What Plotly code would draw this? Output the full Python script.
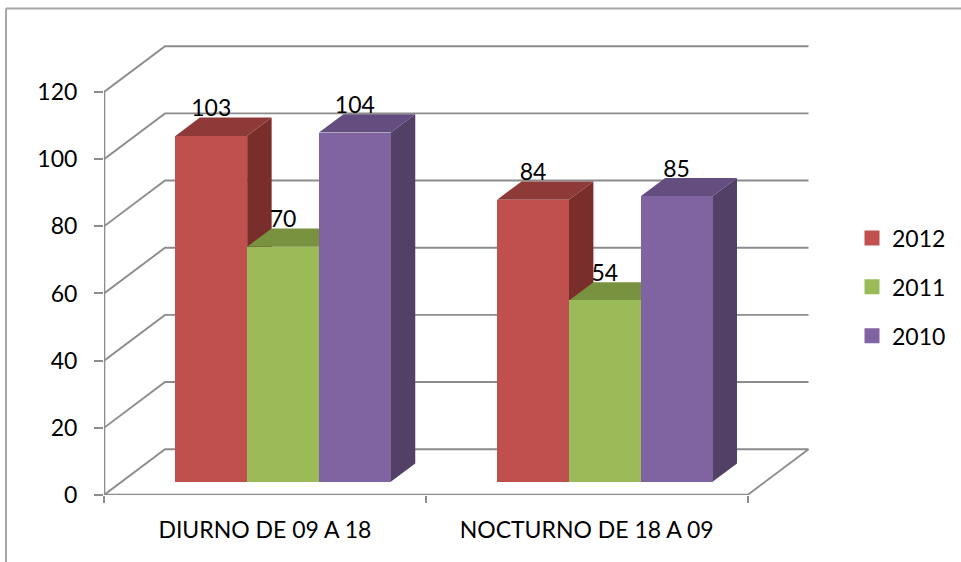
import plotly.graph_objects as go

categories = ["DIURNO DE 09 A 18", "NOCTURNO DE 18 A 09"]
series_names = ["2012", "2011", "2010"]
values_2012 = [103, 84]
values_2011 = [70, 54]
values_2010 = [104, 85]
y_ticks = [0, 20, 40, 60, 80, 100, 120]

series_values = [values_2012, values_2011, values_2010]
front_colors = ["#C0504D", "#9BBB59", "#8064A2"]
top_colors = ["#8E3A38", "#78923F", "#634E7F"]
side_colors = ["#792E2C", "#6B8438", "#524066"]
FONT = "Lato"
FS = 23
TEXT = "#000000"
GRID = "#8C8C8C"

# pixel frame of the plot area
W, H = 961, 562
LEFT, BOTTOM_PX = 104.0, 494.7
RIGHT, TOP_PX = 810.0, 44.5
CAT_PX = 321.75
Y_PX = 3.36
x_range = [0, (RIGHT - LEFT) / CAT_PX]
y_range = [0, (BOTTOM_PX - TOP_PX) / Y_PX]

# oblique projection, in axis units
WALL_DX = 61.0 / CAT_PX
WALL_DY = 45.8 / Y_PX
BAR_DX = 24.5 / CAT_PX
BAR_DY = 18.3 / Y_PX
FLOOR = 13.2 / Y_PX
BAR_W = 71.8 / CAT_PX
GROUP_SHIFT = 0.5565
LABEL_GAP = 25.5 / Y_PX


def px(x):
    return (x - LEFT) / (RIGHT - LEFT)


def py(y):
    return (BOTTOM_PX - y) / (BOTTOM_PX - TOP_PX)


fig = go.Figure()


def line(xs, ys, width=1.9, color=GRID):
    fig.add_trace(go.Scatter(x=xs, y=ys, mode="lines", hoverinfo="skip", showlegend=False,
                             cliponaxis=False, line=dict(color=color, width=width)))


def poly(xs, ys, color):
    fig.add_trace(go.Scatter(x=xs, y=ys, mode="lines", fill="toself", fillcolor=color,
                             line=dict(color=color, width=0), hoverinfo="skip",
                             showlegend=False, cliponaxis=False))


# walls and floor
x_end = len(categories)
for t in y_ticks:
    line([0, WALL_DX, x_end + WALL_DX], [t, t + WALL_DY, t + WALL_DY])
line([x_end, x_end + WALL_DX], [0, WALL_DY])
line([0, x_end], [0, 0], width=2.6)
line([0, 0], [0, y_ticks[-1]], width=2.6)


def bar_x(i, j):
    return i + GROUP_SHIFT + (j - 1) * BAR_W


# side faces, then top faces, behind the fronts
for j, vals in enumerate(series_values):
    for i, v in enumerate(vals):
        xr = bar_x(i, j) + BAR_W / 2
        poly([xr, xr + BAR_DX, xr + BAR_DX, xr],
             [FLOOR, FLOOR + BAR_DY, FLOOR + v + BAR_DY, FLOOR + v], side_colors[j])
for j, vals in enumerate(series_values):
    for i, v in enumerate(vals):
        xc = bar_x(i, j)
        xl, xr = xc - BAR_W / 2, xc + BAR_W / 2
        top = FLOOR + v
        poly([xl, xr, xr + BAR_DX, xl + BAR_DX], [top, top, top + BAR_DY, top + BAR_DY], top_colors[j])

# fronts on an overlaying subplot
for j, vals in enumerate(series_values):
    fig.add_trace(go.Bar(x=[bar_x(i, j) for i in range(len(vals))], y=vals,
                         base=[FLOOR] * len(vals), width=BAR_W, name=series_names[j],
                         marker=dict(color=front_colors[j], line=dict(width=0)),
                         showlegend=False, xaxis="x2", yaxis="y2"))
for j, vals in enumerate(series_values):
    fig.add_trace(go.Scatter(x=[bar_x(i, j) for i in range(len(vals))],
                             y=[FLOOR + v + LABEL_GAP for v in vals],
                             text=[str(v) for v in vals], mode="text",
                             textposition="middle center",
                             textfont=dict(family=FONT, size=FS, color=TEXT),
                             showlegend=False, hoverinfo="skip", cliponaxis=False,
                             xaxis="x2", yaxis="y2"))

# legend swatches
for j, name in enumerate(series_names):
    fig.add_trace(go.Scatter(x=[None], y=[None], mode="markers", name=name,
                             legendgroup=name,
                             marker=dict(symbol="square", size=15, color=front_colors[j])))

axis_common = dict(showgrid=False, zeroline=False, showline=False, fixedrange=True)
fig.update_layout(
    width=W, height=H, autosize=False,
    margin=dict(l=LEFT, r=W - RIGHT, t=TOP_PX, b=H - BOTTOM_PX, pad=0),
    paper_bgcolor="white", plot_bgcolor="white",
    barmode="overlay", bargap=0,
    font=dict(family=FONT, size=FS, color=TEXT),
    xaxis=dict(range=x_range, tickmode="array", tickvals=[i + 0.5 for i in range(x_end)],
               ticktext=categories, ticks="outside", ticklen=14, tickwidth=1,
               tickcolor="rgba(0,0,0,0)",
               minor=dict(tickmode="array", tickvals=list(range(x_end + 1)), ticks="outside",
                          ticklen=7, tickwidth=2, tickcolor=GRID),
               **axis_common),
    yaxis=dict(range=y_range, tickmode="array", tickvals=y_ticks, ticks="outside",
               ticklen=9, tickwidth=2, tickcolor=GRID, ticklabelstandoff=12, **axis_common),
    xaxis2=dict(range=x_range, overlaying="x", visible=False, fixedrange=True),
    yaxis2=dict(range=y_range, overlaying="y", visible=False, fixedrange=True),
    legend=dict(xref="container", yref="container", x=852 / W, y=1 - 287 / H,
                xanchor="left", yanchor="middle",
                bgcolor="rgba(0,0,0,0)", tracegroupgap=16, itemwidth=30,
                font=dict(family=FONT, size=FS, color=TEXT)),
    shapes=[
        dict(type="line", xref="paper", yref="paper", x0=px(6), x1=px(6), y0=py(8), y1=py(562),
             line=dict(color="#A6A6A6", width=2)),
        dict(type="line", xref="paper", yref="paper", x0=px(6), x1=px(961), y0=py(8), y1=py(8),
             line=dict(color="#A6A6A6", width=2)),
    ],
)

fig.write_html("out.html", config={"displayModeBar": False},
               post_script="document.body.style.margin='0';")
